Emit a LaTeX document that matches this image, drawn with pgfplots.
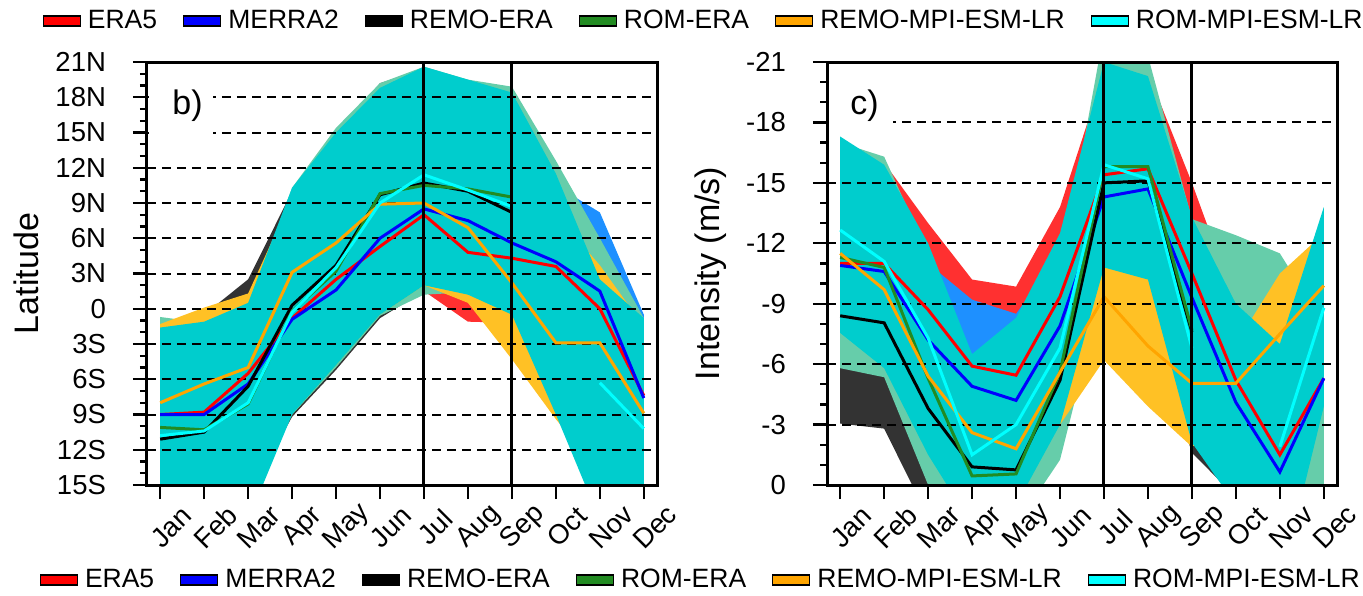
\documentclass[border=0pt]{standalone}
\usepackage{fontspec}
\setmainfont{Liberation Sans}
\usepackage{pgfplots}
\pgfplotsset{compat=1.18}

\definecolor{bandred}{RGB}{255,48,48}
\definecolor{bandblue}{RGB}{30,144,255}
\definecolor{bandgray}{RGB}{51,51,51}
\definecolor{bandgreen}{RGB}{102,205,170}
\definecolor{bandorange}{RGB}{255,193,37}
\definecolor{bandcyan}{RGB}{0,205,205}
\definecolor{lred}{RGB}{255,0,0}
\definecolor{lblue}{RGB}{0,0,255}
\definecolor{lgreen}{RGB}{34,139,34}
\definecolor{lorange}{RGB}{255,165,0}
\definecolor{lcyan}{RGB}{0,255,255}

\pgfplotsset{
  panel/.style={
    scale only axis, width=255pt, height=211.5pt,
    xmin=-0.3, xmax=11.3, xtick={0,...,11},
    xticklabels={Jan,Feb,Mar,Apr,May,Jun,Jul,Aug,Sep,Oct,Nov,Dec},
    xticklabel style={xshift=5.5pt, yshift=-14pt, rotate=45, anchor=center},
    yticklabel style={xshift=-10pt},
    ticklabel style={font=\fontsize{13.75}{16}\selectfont},
    axis line style={line width=1.5pt},
    tick style={line width=1.2pt, black},
    major tick length=7pt, minor tick length=3.5pt,
    tick align=outside, xtick pos=lower, ytick pos=left,
    minor y tick num=2,
    unbounded coords=jump, axis on top,
    legend columns=6,
    legend image code/.code={\draw[##1, draw=black, line width=0.6pt] (0pt,-2.5pt) rectangle (18.5pt,2.5pt);},
    legend style={draw=none, fill=none, font=\fontsize{13.25}{15}\selectfont,
      nodes={inner sep=1.5pt},
      /tikz/every even column/.append style={column sep=11.5pt},
      /tikz/every odd column/.append style={column sep=2pt}},
  },
  grd/.style={black, line width=1pt, dash pattern=on 4.5pt off 3pt, forget plot},
  ln/.style={line width=1.5pt, forget plot},
  bd/.style={draw=none, forget plot},
}

\begin{document}
\begin{tikzpicture}
\useasboundingbox (-73.5pt,-55pt) rectangle (608pt,242.5pt);

% ---------------- left panel (b) ----------------
\begin{axis}[panel, at={(0pt,0pt)}, anchor=south west,
  ymin=-15, ymax=21, ytick={-15,-12,...,21},
  yticklabels={15S,12S,9S,6S,3S,0,3N,6N,9N,12N,15N,18N,21N},
  ylabel={Latitude},
  ylabel style={at={(axis description cs:-0.2373,0.5)}, anchor=center, font=\fontsize{17}{20}\selectfont},
  legend style={at={(axis description cs:2.402,1.097)}, anchor=east}]

\addplot[bd, fill=bandred] coordinates {(0,-4)(1,-3)(2,-1)(3,8)(4,13)(5,17)(6,19)(7,17)(8,16)(9,9)(10,1)(11,-2)
 (11,-12)(10,-12)(9,-6)(8,-1.2)(7,-1.1)(6,1.5)(5,-0.2)(4,-4)(3,-8)(2,-14)(1,-14)(0,-14)};
\addplot[bd, fill=bandblue] coordinates {(0,-4)(1,-3)(2,-1)(3,8)(4,13)(5,17)(6,19)(7,18)(8,16)(9,10.5)(10,8.2)(11,-0.5)
 (11,-14)(10,-14)(9,-8)(8,0)(7,1.5)(6,1.8)(5,0)(4,-4)(3,-8)(2,-14)(1,-14)(0,-14)};
\addplot[bd, fill=bandgray] coordinates {(0,-3)(1,-0.5)(2,2.5)(3,10.0)(4,14.5)(5,19.2)(6,20.4)(7,19.0)(8,18.0)(9,11)(10,2)(11,-2)
 (11,-16)(10,-16)(9,-8)(8,0)(7,1.5)(6,1.5)(5,-0.8)(4,-5.2)(3,-9.2)(2,-16)(1,-16)(0,-16)};
\addplot[bd, fill=bandgreen] coordinates {(0,-0.7)(1,-1.2)(2,0)(3,10.3)(4,15.4)(5,19.2)(6,20.6)(7,19.5)(8,18.9)(9,12.6)(10,6.0)(11,-0.8)
 (11,-16)(10,-16)(9,-9)(8,-0.3)(7,1.4)(6,1.2)(5,-0.6)(4,-5.0)(3,-9.0)(2,-16)(1,-16)(0,-16)};
\addplot[bd, fill=bandorange] coordinates {(0,-1.3)(1,0.1)(2,1.3)(3,9.5)(4,14)(5,18)(6,19.5)(7,18.5)(8,17)(9,8)(10,3.7)(11,-1.5)
 (11,-16)(10,-14)(9,-9.4)(8,-4.3)(7,0.5)(6,2.0)(5,-0.5)(4,-4.8)(3,-9)(2,-16)(1,-16)(0,-16)};
\addplot[bd, fill=bandcyan] coordinates {(0,-1.6)(1,-1.1)(2,0.5)(3,10.3)(4,15.0)(5,18.8)(6,20.6)(7,19.5)(8,18.4)(9,11.5)(10,2.5)(11,-0.8)
 (11,-18)(10,-18)(9,-9.0)(8,-0.5)(7,1.2)(6,2.0)(5,-0.5)(4,-4.8)(3,-9.0)(2,-18)(1,-18)(0,-18)};

\addplot[grd] coordinates {(-0.3,18)(11.3,18)};
\addplot[grd] coordinates {(-0.3,15)(11.3,15)};
\addplot[grd] coordinates {(-0.3,12)(11.3,12)};
\addplot[grd] coordinates {(-0.3,9)(11.3,9)};
\addplot[grd] coordinates {(-0.3,6)(11.3,6)};
\addplot[grd] coordinates {(-0.3,3)(11.3,3)};
\addplot[grd] coordinates {(-0.3,0)(11.3,0)};
\addplot[grd] coordinates {(-0.3,-3)(11.3,-3)};
\addplot[grd] coordinates {(-0.3,-6)(11.3,-6)};
\addplot[grd] coordinates {(-0.3,-9)(11.3,-9)};
\addplot[grd] coordinates {(-0.3,-12)(11.3,-12)};

\node[fill=white, inner sep=0pt, minimum width=32pt, minimum height=38pt, anchor=north west] at (axis description cs:0.003,0.997) {};
\node[anchor=base west, inner sep=0pt, font=\fontsize{17}{20}\selectfont] at (axis description cs:0.049,0.875) {b)};

\addplot[ln, lred] coordinates {(0,-9.0)(1,-8.8)(2,-5.5)(3,-0.8)(4,2.5)(5,5.3)(6,8.0)(7,4.8)(8,4.3)(9,3.6)(10,0.0)(11,-7.4)};
\addplot[ln, lblue] coordinates {(0,-9.0)(1,-9.0)(2,-6.4)(3,-0.9)(4,1.6)(5,6.0)(6,8.5)(7,7.5)(8,5.6)(9,4.0)(10,1.5)(11,-7.6)};
\addplot[ln, black] coordinates {(0,-11.1)(1,-10.5)(2,-6.6)(3,0.3)(4,3.7)(5,9.7)(6,10.7)(7,10.0)(8,8.2)};
\addplot[ln, lgreen] coordinates {(0,-10.1)(1,-10.3)(2,-8.1)(3,-0.2)(4,3.2)(5,9.8)(6,10.5)(7,10.2)(8,9.5)};
\addplot[ln, lorange] coordinates {(0,-8.0)(1,-6.4)(2,-5.0)(3,3.1)(4,5.6)(5,8.9)(6,9.0)(7,6.9)(8,2.2)(9,-2.9)(10,-2.9)(11,-8.9)};
\addplot[ln, lcyan] coordinates {(0,-10.8)(1,-10.4)(2,-8.0)(3,-0.3)(4,3.5)(5,9.0)(6,11.4)(7,10.1)(8,8.7)(9,nan)(10,-6.3)(11,-10.2)};

\addplot[black, line width=1.5pt, forget plot] coordinates {(6,-15)(6,21)};
\addplot[black, line width=1.5pt, forget plot] coordinates {(8,-15)(8,21)};

\addlegendimage{fill=lred}\addlegendentry{ERA5}
\addlegendimage{fill=lblue}\addlegendentry{MERRA2}
\addlegendimage{fill=black}\addlegendentry{REMO-ERA}
\addlegendimage{fill=lgreen}\addlegendentry{ROM-ERA}
\addlegendimage{fill=lorange}\addlegendentry{REMO-MPI-ESM-LR}
\addlegendimage{fill=lcyan}\addlegendentry{ROM-MPI-ESM-LR}
\end{axis}

% ---------------- right panel (c) ----------------
\begin{axis}[panel, at={(340pt,0pt)}, anchor=south west,
  ymin=-21, ymax=0, y dir=reverse, ytick={-21,-18,...,0},
  yticklabels={-21,-18,-15,-12,-9,-6,-3,0},
  ylabel={Intensity (m/s)},
  ylabel style={at={(axis description cs:-0.2275,0.5)}, anchor=center, font=\fontsize{17}{20}\selectfont},
  legend style={at={(axis description cs:1.063,-0.2246)}, anchor=east}]

\addplot[bd, fill=bandred] coordinates {(0,-15)(1,-16.0)(2,-13.0)(3,-10.2)(4,-9.85)(5,-13.8)(6,-20.5)(7,-20.5)(8,-15.0)(9,-9.0)(10,-6)(11,-6)
 (11,-5)(10,-2)(9,-4)(8,-8)(7,-13)(6,-13)(5,-7)(4,-5)(3,-5)(2,-6)(1,-9)(0,-9)};
\addplot[bd, fill=bandblue] coordinates {(0,-14)(1,-13)(2,-11)(3,-9.2)(4,-8.5)(5,-11.5)(6,-18)(7,-18)(8,-12)(9,-8)(10,-5)(11,-5)
 (11,-4)(10,-1)(9,-3)(8,-7)(7,-12)(6,-12)(5,-6)(4,-4)(3,-4)(2,-5)(1,-8)(0,-8)};
\addplot[bd, fill=bandgray] coordinates {(0,-9)(1,-9)(2,-6)(3,-4)(4,-4)(5,-8)(6,-14)(7,-14)(8,-8)(9,-3)(10,-3)(11,-5)
 (11,-3)(10,-1)(9,0.6)(8,-1.6)(7,-8.5)(6,-8)(5,-2.5)(4,1)(3,3)(2,1.6)(1,-2.8)(0,-3.05)};
\addplot[bd, fill=bandgreen] coordinates {(0,-17.0)(1,-16.3)(2,-11.5)(3,-6.0)(4,-7.0)(5,-10.5)(6,-22.5)(7,-21.3)(8,-13.2)(9,-12.4)(10,-11.5)(11,-8.0)
 (11,2)(10,2)(9,-3.0)(8,-5.0)(7,-9.0)(6,-9.9)(5,-1.25)(4,2)(3,3)(2,0)(1,-5.35)(0,-5.8)};
\addplot[bd, fill=bandorange] coordinates {(0,-14)(1,-12)(2,-9)(3,-5)(4,-5)(5,-8)(6,-14)(7,-14)(8,-9)(9,-7.0)(10,-10.5)(11,-12.5)
 (11,-8)(10,-6)(9,-3)(8,-1.9)(7,-3.9)(6,-6.2)(5,-3.0)(4,0)(3,0)(2,-3)(1,-7)(0,-9)};
\addplot[bd, fill=bandcyan] coordinates {(0,-17.3)(1,-15.9)(2,-12.0)(3,-6.5)(4,-8.3)(5,-12.5)(6,-21.0)(7,-20.3)(8,-13.3)(9,-9.0)(10,-7.0)(11,-13.8)
 (11,-3.9)(10,5)(9,1)(8,-2.1)(7,-10.2)(6,-10.8)(5,-3.0)(4,1)(3,2)(2,-1.5)(1,-5.8)(0,-7.55)};

\addplot[grd] coordinates {(-0.3,-18)(11.3,-18)};
\addplot[grd] coordinates {(-0.3,-15)(11.3,-15)};
\addplot[grd] coordinates {(-0.3,-12)(11.3,-12)};
\addplot[grd] coordinates {(-0.3,-9)(11.3,-9)};
\addplot[grd] coordinates {(-0.3,-6)(11.3,-6)};
\addplot[grd] coordinates {(-0.3,-3)(11.3,-3)};

\node[fill=white, inner sep=0pt, minimum width=32pt, minimum height=33pt, anchor=north west] at (axis description cs:0.003,0.997) {};
\node[anchor=base west, inner sep=0pt, font=\fontsize{17}{20}\selectfont] at (axis description cs:0.045,0.875) {c)};

\addplot[ln, lred] coordinates {(0,-11.0)(1,-11.0)(2,-8.7)(3,-5.9)(4,-5.45)(5,-9.35)(6,-15.4)(7,-15.7)(8,-10.5)(9,-5.2)(10,-1.5)(11,-5.3)};
\addplot[ln, lblue] coordinates {(0,-10.9)(1,-10.6)(2,-7.2)(3,-4.9)(4,-4.2)(5,-7.9)(6,-14.3)(7,-14.7)(8,-9.3)(9,-4.1)(10,-0.65)(11,-5.3)};
\addplot[ln, black] coordinates {(0,-8.4)(1,-8.05)(2,-3.8)(3,-0.9)(4,-0.75)(5,-5.2)(6,-15.0)(7,-15.1)(8,-7.6)};
\addplot[ln, lgreen] coordinates {(0,-11.3)(1,-10.8)(2,-5.3)(3,-0.45)(4,-0.55)(5,-5.6)(6,-15.8)(7,-15.8)(8,-7.7)};
\addplot[ln, lorange] coordinates {(0,-11.5)(1,-9.7)(2,-5.4)(3,-2.6)(4,-1.8)(5,-5.6)(6,-9.35)(7,-6.9)(8,-5.05)(9,-5.05)(10,-7.5)(11,-9.9)};
\addplot[ln, lcyan] coordinates {(0,-12.66)(1,-11.1)(2,-7.3)(3,-1.5)(4,-3.0)(5,-6.8)(6,-15.9)(7,-15.2)(8,-6.8)(9,nan)(10,-1.9)(11,-8.8)};

\addplot[black, line width=1.5pt, forget plot] coordinates {(6,-21)(6,0)};
\addplot[black, line width=1.5pt, forget plot] coordinates {(8,-21)(8,0)};

\addlegendimage{fill=lred}\addlegendentry{ERA5}
\addlegendimage{fill=lblue}\addlegendentry{MERRA2}
\addlegendimage{fill=black}\addlegendentry{REMO-ERA}
\addlegendimage{fill=lgreen}\addlegendentry{ROM-ERA}
\addlegendimage{fill=lorange}\addlegendentry{REMO-MPI-ESM-LR}
\addlegendimage{fill=lcyan}\addlegendentry{ROM-MPI-ESM-LR}
\end{axis}
\end{tikzpicture}
\end{document}
